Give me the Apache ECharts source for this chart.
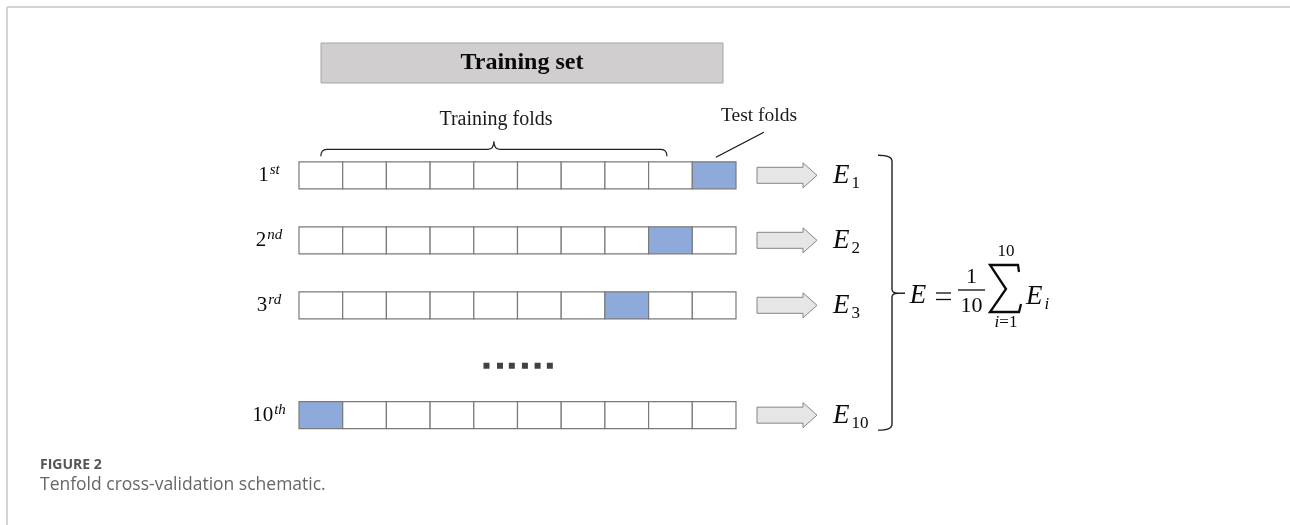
<!DOCTYPE html>
<html lang="en">
<head>
  <meta charset="UTF-8">
  <title>Tenfold cross-validation schematic</title>
  <style>html, body { margin: 0; padding: 0; background: #fff; }</style>
</head>
<body>
  <div id="main" style="width: 1290px;height:525px;"></div>

  <script src="https://cdn.jsdelivr.net/npm/echarts@6.0.0/dist/echarts.min.js"></script>
  <script>
    // folds and rows of the schematic
    const foldCount = 10;
    const rowNumbers = ['1', '2', '3', '10'];
    const rowSuffixes = ['st', 'nd', 'rd', 'th'];
    const testFolds = [9, 8, 7, 0];
    const errorSubs = ['1', '2', '3', '10'];
    const rowSlots = [0, 1, 2, 3.69];
    const dotFolds = [4.29, 4.60, 4.87, 5.17, 5.46, 5.74];
    const dotSlot = 2.93;
    const braceFolds = [0.5, 8.42];

    const serif = '"Liberation Serif", "Times New Roman", serif';
    const ink = '#0a0a0a';
    const myChart = echarts.init(document.getElementById('main'));

    const cellData = [];
    rowSlots.forEach((slot, r) => {
      for (let f = 0; f < foldCount; f++) {
        cellData.push([f, slot, f === testFolds[r] ? 1 : 0]);
      }
    });
    const rowData = rowSlots.map((slot, r) => [0, slot, r]);
    const dotData = dotFolds.map(x => [x, dotSlot]);

    const renderCell = (params, api) => {
      const a = api.coord([api.value(0), api.value(1)]);
      const b = api.coord([api.value(0) + 1, api.value(1)]);
      return {
        type: 'rect',
        shape: { x: a[0], y: a[1] - 13.5, width: b[0] - a[0], height: 27 },
        style: { fill: api.value(2) ? '#8eaadb' : '#fff', stroke: '#7a7a7a', lineWidth: 1.2 }
      };
    };

    const renderRow = (params, api) => {
      const r = api.value(2);
      const start = api.coord([0, api.value(1)]);
      const end = api.coord([foldCount, api.value(1)]);
      const y = start[1];
      const ax = end[0] + 21;
      return {
        type: 'group',
        children: [
          {
            type: 'text', x: start[0] - 30, y: y,
            style: {
              text: `{n|${rowNumbers[r]}}{s|${rowSuffixes[r]}}`,
              align: 'center', verticalAlign: 'middle',
              rich: {
                n: { fontFamily: serif, fontSize: 21, lineHeight: 25, fill: ink },
                s: { fontFamily: serif, fontSize: 15, fontStyle: 'italic', lineHeight: 15, verticalAlign: 'top', fill: ink, padding: [0, 0, 0, 1] }
              }
            }
          },
          {
            type: 'polygon',
            shape: { points: [[ax, y - 8], [ax + 46, y - 8], [ax + 46, y - 12.5], [ax + 60, y], [ax + 46, y + 12.5], [ax + 46, y + 8], [ax, y + 8]] },
            style: { fill: '#e6e6e6', stroke: '#858585', lineWidth: 1 }
          },
          {
            type: 'text', x: end[0] + 97, y: y + 1,
            style: {
              text: `{e|E}{d|${errorSubs[r]}}`,
              align: 'left', verticalAlign: 'middle',
              rich: {
                e: { fontFamily: serif, fontSize: 27, fontStyle: 'italic', lineHeight: 32, fill: ink },
                d: { fontFamily: serif, fontSize: 17, lineHeight: 17, verticalAlign: 'bottom', fill: ink, padding: [0, 0, 0, 2] }
              }
            }
          }
        ]
      };
    };

    const renderNotes = (params, api) => {
      // brace over the training folds
      const bl = api.coord([braceFolds[0], rowSlots[0]]);
      const br = api.coord([braceFolds[1], rowSlots[0]]);
      const yb = bl[1] - 19, yh = yb - 7, yt = yh - 8;
      const xm = (bl[0] + br[0]) / 2;
      const brace = `M${bl[0]},${yb} Q${bl[0]},${yh} ${bl[0] + 6},${yh} L${xm - 6},${yh} Q${xm},${yh} ${xm},${yt}` +
        ` Q${xm},${yh} ${xm + 6},${yh} L${br[0] - 6},${yh} Q${br[0]},${yh} ${br[0]},${yb}`;
      // leader to the test fold
      const lt = api.coord([testFolds[0] + 0.54, rowSlots[0]]);
      // bracket over all rows
      const top = api.coord([foldCount, rowSlots[0]]);
      const bot = api.coord([foldCount, rowSlots[rowSlots.length - 1]]);
      const x1 = top[0] + 142, x2 = top[0] + 156;
      const yT = top[1] - 20, yB = bot[1] + 15, ym = top[1] + 118;
      const bracket = `M${x1},${yT} Q${x2},${yT} ${x2},${yT + 6} L${x2},${ym - 4} Q${x2},${ym} ${x2 + 6},${ym} L${x2 + 13},${ym}` +
        ` M${x2 + 6},${ym} Q${x2},${ym} ${x2},${ym + 4} L${x2},${yB - 6} Q${x2},${yB} ${x1},${yB}`;
      return {
        type: 'group',
        children: [
          { type: 'path', shape: { pathData: brace }, style: { fill: 'none', stroke: '#222', lineWidth: 1.2 } },
          { type: 'line', shape: { x1: lt[0], y1: lt[1] - 18, x2: lt[0] + 48, y2: lt[1] - 43 }, style: { stroke: '#111', lineWidth: 1.2 } },
          { type: 'path', shape: { pathData: bracket }, style: { fill: 'none', stroke: '#222', lineWidth: 1.4 } }
        ]
      };
    };

    const options = {
      animation: false,
      grid: { left: 299, width: 437, top: 142.8, height: 305.5 },
      xAxis: { type: 'value', min: 0, max: foldCount, show: false },
      yAxis: { type: 'value', min: -0.5, max: 4.2, inverse: true, show: false },
      graphic: [
        { type: 'line', shape: { x1: 7, y1: 7, x2: 1290, y2: 7 }, style: { stroke: '#c6c6c6', lineWidth: 1.5 } },
        { type: 'line', shape: { x1: 7, y1: 7, x2: 7, y2: 525 }, style: { stroke: '#c6c6c6', lineWidth: 1.5 } },
        { type: 'rect', shape: { x: 321, y: 43, width: 402, height: 40 }, style: { fill: '#d0cece', stroke: '#a6a6a6', lineWidth: 1 } },
        { type: 'text', x: 522, y: 63, style: { text: 'Training set', font: `bold 24px ${serif}`, fill: ink, align: 'center', verticalAlign: 'middle' } },
        { type: 'text', x: 496, y: 120, style: { text: 'Training folds', font: `20px ${serif}`, fill: '#1a1a1a', align: 'center', verticalAlign: 'middle' } },
        { type: 'text', x: 759, y: 116, style: { text: 'Test folds', font: `19.5px ${serif}`, fill: '#1a1a1a', align: 'center', verticalAlign: 'middle' } },
        // E = 1/10 sum E_i
        { type: 'text', x: 918, y: 296, style: { text: 'E', font: `italic 27px ${serif}`, fill: ink, align: 'center', verticalAlign: 'middle' } },
        { type: 'line', shape: { x1: 936, y1: 293, x2: 951, y2: 293 }, style: { stroke: ink, lineWidth: 1.3 } },
        { type: 'line', shape: { x1: 936, y1: 299.5, x2: 951, y2: 299.5 }, style: { stroke: ink, lineWidth: 1.3 } },
        { type: 'text', x: 971.5, y: 277, style: { text: '1', font: `22px ${serif}`, fill: ink, align: 'center', verticalAlign: 'middle' } },
        { type: 'line', shape: { x1: 958, y1: 290, x2: 985, y2: 290 }, style: { stroke: ink, lineWidth: 1.3 } },
        { type: 'text', x: 971.5, y: 306, style: { text: '10', font: `22px ${serif}`, fill: ink, align: 'center', verticalAlign: 'middle' } },
        { type: 'polyline', shape: { points: [[1019, 272], [1018, 265], [990, 265], [1006, 289], [990, 312], [1019, 312], [1021, 304]] }, style: { fill: 'none', stroke: ink, lineWidth: 2.3 } },
        { type: 'text', x: 1006, y: 252, style: { text: '10', font: `17px ${serif}`, fill: ink, align: 'center', verticalAlign: 'middle' } },
        {
          type: 'text', x: 1006, y: 323,
          style: {
            text: '{i|i}{t|=1}', align: 'center', verticalAlign: 'middle',
            rich: {
              i: { fontFamily: serif, fontSize: 17, fontStyle: 'italic', fill: ink },
              t: { fontFamily: serif, fontSize: 17, fill: ink }
            }
          }
        },
        {
          type: 'text', x: 1026, y: 297,
          style: {
            text: '{e|E}{s|i}', align: 'left', verticalAlign: 'middle',
            rich: {
              e: { fontFamily: serif, fontSize: 27, fontStyle: 'italic', lineHeight: 32, fill: ink },
              s: { fontFamily: serif, fontSize: 17, fontStyle: 'italic', lineHeight: 17, verticalAlign: 'bottom', fill: ink, padding: [0, 0, 0, 2] }
            }
          }
        },
        { type: 'text', x: 40, y: 465, style: { text: 'FIGURE 2', font: 'bold 14px "Open Sans", sans-serif', fill: '#555', align: 'left', verticalAlign: 'middle' } },
        { type: 'text', x: 40, y: 485, style: { text: 'Tenfold cross-validation schematic.', font: '17.5px "Open Sans", sans-serif', fill: '#666', align: 'left', verticalAlign: 'middle' } }
      ],
      series: [
        { name: 'folds', type: 'custom', renderItem: renderCell, encode: { x: 0, y: 1 }, data: cellData, silent: true },
        { name: 'rows', type: 'custom', renderItem: renderRow, encode: { x: 0, y: 1 }, data: rowData, silent: true },
        { name: 'notes', type: 'custom', renderItem: renderNotes, encode: { x: 0, y: 1 }, data: [[0, 0]], silent: true },
        { name: 'dots', type: 'scatter', symbol: 'rect', symbolSize: 6, itemStyle: { color: '#111' }, data: dotData, silent: true }
      ]
    };

    myChart.setOption(options);
  </script>
</body>
</html>
